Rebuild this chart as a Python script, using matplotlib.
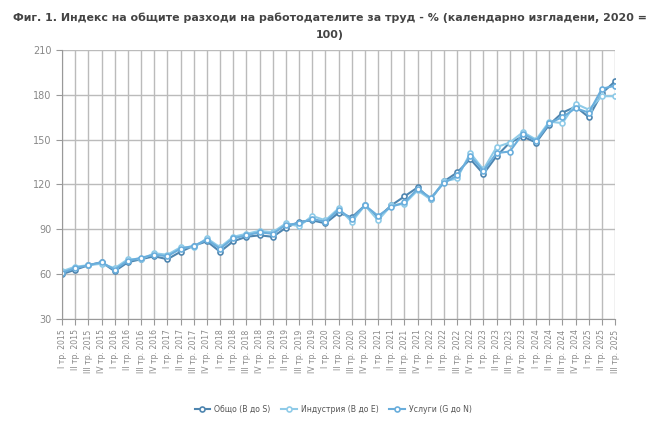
import matplotlib
matplotlib.use("Agg")
import matplotlib.pyplot as plt

quarters = ["I", "II", "III", "IV"]
labels = []
for year in range(2015, 2026):
    for q in quarters:
        if year == 2025 and q == "IV":
            break
        labels.append(f"{q} тр. {year}")

total = [60, 63, 66, 68, 62, 68, 70, 72, 70, 75, 79, 82, 75, 82, 85, 86,
         85, 91, 95, 96, 94, 101, 98, 106, 98, 106, 112, 118, 110, 122, 128, 137,
         127, 139, 148, 152, 148, 160, 168, 172, 165, 181, 189]
industry = [62, 65, 66, 67, 64, 70, 70, 74, 73, 78, 78, 84, 78, 85, 87, 89,
            88, 94, 92, 99, 96, 104, 95, 106, 96, 106, 107, 116, 110, 122, 124, 141,
            130, 145, 148, 155, 150, 162, 161, 174, 170, 179, 179]
services = [61, 64, 66, 68, 63, 69, 71, 73, 72, 77, 79, 83, 77, 84, 86, 88,
            87, 93, 94, 97, 95, 103, 97, 106, 99, 105, 108, 117, 111, 121, 126, 139,
            129, 141, 142, 154, 149, 161, 165, 171, 168, 184, 186]

colors = ["#4f86b0", "#8fcbe8", "#6aaedc"]
names = ["Общо (B до S)", "Индустрия (B до E)", "Услуги (G до N)"]

fig = plt.figure(figsize=(6.6, 4.45), dpi=100)
ax = fig.add_axes([0.094, 0.283, 0.838, 0.605])

x = range(len(labels))
for data, c, n in zip([total, industry, services], colors, names):
    ax.plot(x, data, color=c, lw=1.5, marker="o", ms=3.6, mfc="white",
            mec=c, mew=1.2, label=n)

ax.set_xlim(0, len(labels) - 1)
ax.set_ylim(30, 210)
ax.set_yticks(range(30, 211, 30))
ax.set_xticks(list(x))
ax.set_xticklabels(labels, rotation=90, fontsize=5.6, color="#888888")
ax.tick_params(axis="y", labelsize=7, colors="#888888", length=4, color="#999999")
ax.tick_params(axis="x", length=4, color="#999999")
ax.grid(True, color="#bbbbbb", lw=1)
ax.set_axisbelow(True)
for s in ["top", "right"]:
    ax.spines[s].set_visible(False)
for s in ["left", "bottom"]:
    ax.spines[s].set_color("#999999")

fig.suptitle("Фиг. 1. Индекс на общите разходи на работодателите за труд - % (календарно изгладени, 2020 =\n100)",
             fontsize=7.9, fontweight="bold", color="#444444", y=0.972, linespacing=1.9)

ax.legend(loc="center", bbox_to_anchor=(0.49, -0.335), ncol=3, frameon=False,
          fontsize=5.6, labelcolor="#555555", handlelength=2.0, handletextpad=0.5,
          columnspacing=1.4)

fig.savefig("out.png", dpi=100)
